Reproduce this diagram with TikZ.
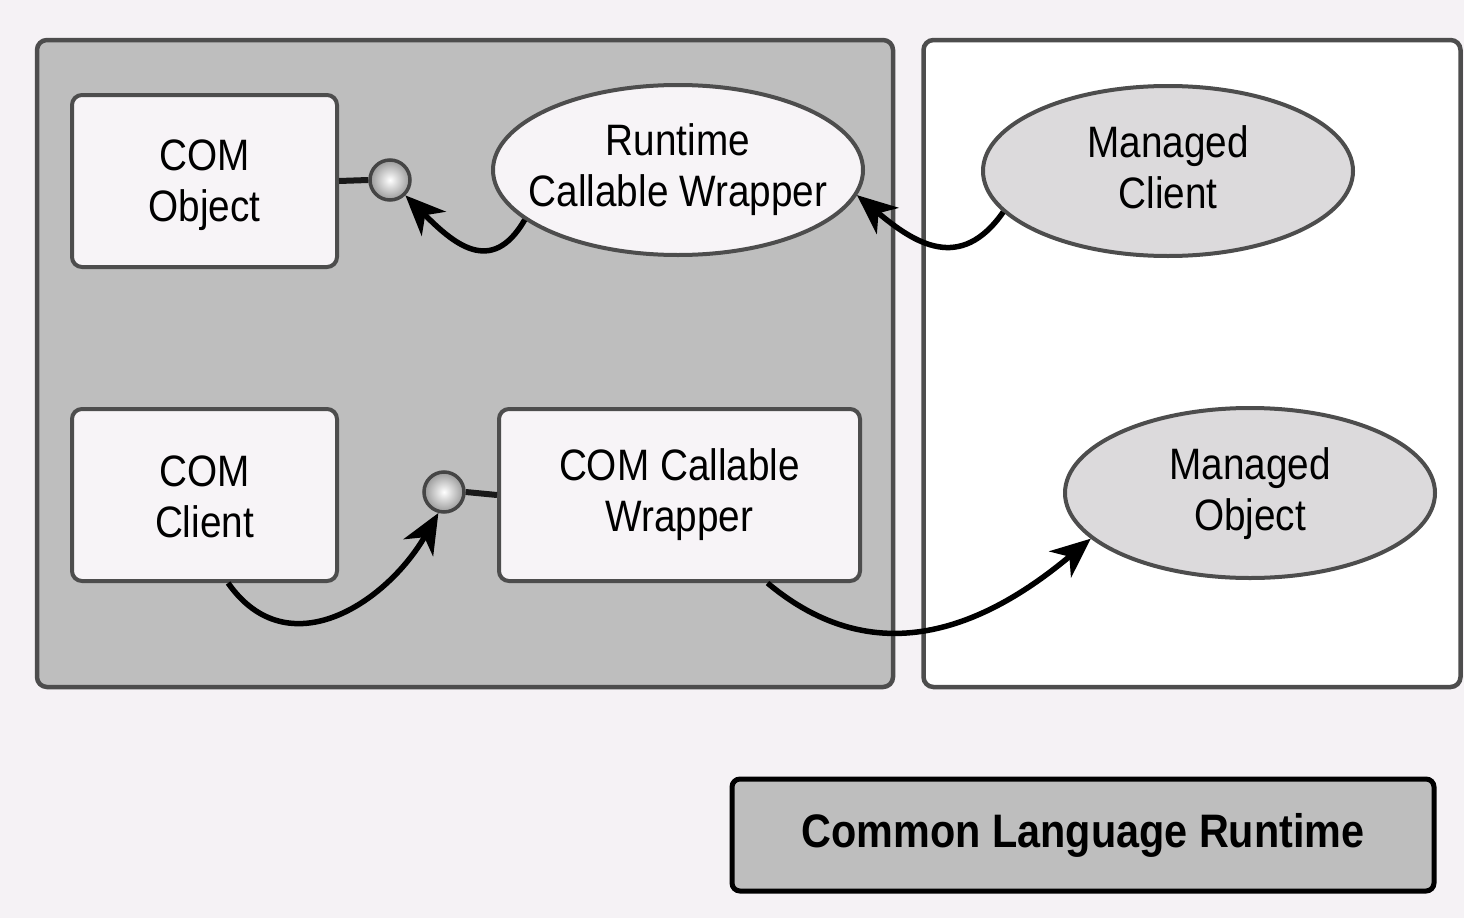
\documentclass[tikz,border=0pt]{standalone}
\usepackage{fontspec}
\setmainfont{Liberation Sans}[FakeStretch=0.88]
\usetikzlibrary{arrows.meta,shapes.geometric}
\definecolor{bg}{HTML}{F5F2F5}
\definecolor{panel}{HTML}{BEBEBE}
\definecolor{edge}{HTML}{4D4D4D}
\definecolor{boxfill}{HTML}{F7F4F7}
\definecolor{ellfill}{HTML}{DCDADC}
\begin{document}
\begin{tikzpicture}[x=1pt,y=1pt,
 lbl/.style={font=\fontsize{44}{51}\selectfont, align=center, inner sep=0pt},
 panelbox/.style={draw=edge, line width=4.5pt, rounded corners=10pt, inner sep=0pt},
 combox/.style={draw=edge, fill=boxfill, line width=4pt, rounded corners=10pt, minimum height=172pt, inner sep=0pt},
 ell/.style={ellipse, draw=edge, line width=4pt, minimum width=370pt, minimum height=170pt, inner sep=0pt},
 ballnode/.style={circle, minimum size=40pt, inner sep=0pt, draw=edge!90!black, line width=3.5pt, inner color=white, outer color=black!40},
 conn/.style={line width=5.5pt, -{Stealth[length=40pt,width=34pt,inset=12pt]}},
 stub/.style={line width=6pt, draw=black!90}
]
\useasboundingbox (0,0) rectangle (1464,-918);
\fill[bg] (0,0) rectangle (1464,-918);

\node[panelbox, fill=panel, minimum width=856pt, minimum height=647pt] (left) at (465,-363.5) {};
\node[panelbox, fill=white, minimum width=537pt, minimum height=647pt] (right) at (1192,-363.5) {};

\node[combox, minimum width=265pt, label={[lbl,yshift=-4pt]center:COM\\Object}] (comobj) at (204.5,-181) {};
\node[combox, minimum width=265pt, label={[lbl,yshift=-2pt]center:COM\\Client}] (client) at (204.5,-495) {};
\node[combox, minimum width=361pt, label={[lbl,yshift=0pt]center:COM Callable\\Wrapper}] (ccw) at (679.5,-495) {};

\node[ell, fill=boxfill, label={[lbl,yshift=0pt]center:Runtime\\Callable Wrapper}] (rcw) at (678,-170) {};
\node[ell, fill=ellfill, label={[lbl,yshift=4pt]center:Managed\\Client}] (mc) at (1168,-171) {};
\node[ell, fill=ellfill, label={[lbl,yshift=-1pt]center:Managed\\Object}] (mo) at (1250,-493) {};

\node[ballnode] (ball1) at (390,-180) {};
\node[ballnode] (ball2) at (444,-492) {};
\draw[stub] (comobj.east) -- (ball1.west);
\draw[stub] (ball2.east) -- (ccw.west);

\draw[conn] (rcw.198) to[out=240,in=-45,looseness=1.4] (ball1.-45);
\draw[conn] (mc.194) to[out=235,in=-40,looseness=1.3] (rcw.-8);
\draw[conn] (client.-75) to[out=-55,in=-120,looseness=1.2] (ball2.-105);
\draw[conn] (ccw.-45) to[out=-40,in=-140,looseness=1.1] (mo.196);

\node[draw=black, line width=5pt, fill=panel, rounded corners=8pt, minimum width=702pt, minimum height=112pt, font=\bfseries\fontsize{47}{54}\selectfont] (clr) at (1083,-835) {Common Language Runtime};
\end{tikzpicture}
\end{document}
